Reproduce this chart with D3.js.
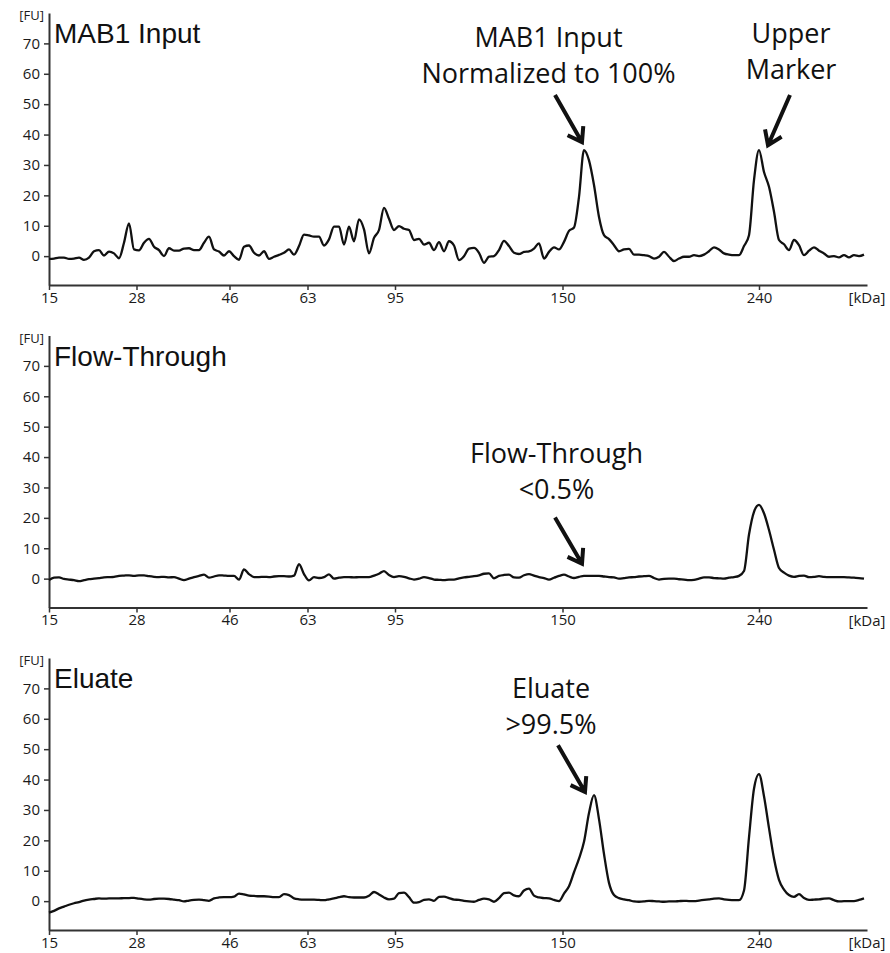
<!DOCTYPE html>
<html>

<head>
	<meta charset="utf-8">
	<title>Protein A purification - electropherograms</title>
	<style>
		html,
		body {
			margin: 0;
			background: #fff;
		}

		svg {
			display: block;
		}

		.axis .domain {
			stroke: #333;
			stroke-width: 2;
		}

		.axis .tick line {
			stroke: #333;
			stroke-width: 1.5;
		}

		.axis .tick text {
			font-family: 'Open Sans', sans-serif;
			fill: #1a1a1a;
		}

		.y-axis .tick text {
			font-size: 15px;
		}

		.x-axis .tick text {
			font-size: 15px;
		}

		.unit {
			font-family: 'Open Sans', sans-serif;
			fill: #1a1a1a;
		}

		.title {
			font-family: 'Liberation Sans', Arial, sans-serif;
			font-size: 28px;
			fill: #111;
		}

		.note {
			font-family: 'Open Sans', sans-serif;
			font-size: 27px;
			fill: #111;
			text-anchor: middle;
		}

		.trace {
			fill: none;
			stroke: #111;
			stroke-width: 2.3;
			stroke-linejoin: round;
		}

		.arrow {
			fill: none;
			stroke: #111;
			stroke-width: 4;
		}
	</style>
	<script src="https://cdn.jsdelivr.net/npm/d3@7/dist/d3.min.js"></script>
</head>

<body>
	<svg id="svg" width="890" height="953"></svg>

	<script>
		// size ladder: kDa label and the data point where each band sits
		const ladderKDa = [15, 28, 46, 63, 95, 150, 240];
		const ladderPoint = [0, 17.5, 36.1, 51.7, 69.2, 102.7, 142];
		const lastPoint = 163.6;

		const yTicks = [0, 10, 20, 30, 40, 50, 60, 70];
		const panelNames = ['MAB1 Input', 'Flow-Through', 'Eluate'];

		// fluorescence [FU], one value per data point
		const mab1Input = [
			-0.9, -0.8, -0.5, -0.5, -0.9, -0.8, -0.5, -1.2, -0.5, 1.6,
			2.0, 0.2, 1.5, 0.9, -0.7, 4.4, 10.8, 2.2, 1.9, 4.4,
			5.7, 3.1, 2.0, 0.0, 2.6, 1.8, 1.8, 2.5, 2.6, 2.0,
			2.0, 4.4, 6.4, 2.2, 1.5, 0.2, 1.6, 0.0, -1.2, 3.1,
			3.5, 1.1, 0.2, 1.6, -0.9, -0.2, 0.4, 1.1, 2.2, 0.5,
			3.3, 7.1, 6.8, 6.4, 6.4, 3.5, 5.5, 9.7, 9.7, 3.8,
			9.7, 4.9, 12.1, 8.8, 0.9, 6.0, 8.6, 15.9, 12.3, 8.6,
			9.9, 9.0, 8.6, 5.3, 5.7, 3.8, 4.4, 2.0, 4.6, 1.6,
			4.9, 3.5, -1.3, 0.0, 2.5, 2.7, 1.1, -2.2, -0.2, 0.0,
			2.0, 5.0, 3.3, 1.1, 0.7, 1.4, 1.6, 2.5, 4.2, -0.8,
			1.4, 2.9, 2.2, 4.7, 8.3, 9.4, 19.5, 34.9, 31.5, 23.4,
			12.9, 6.9, 5.6, 3.6, 1.6, 2.2, 2.4, 0.5, 0.5, 0.3,
			0.0, -0.8, -0.2, 1.4, -0.2, -1.6, -0.8, -0.2, -0.2, 0.3,
			0.0, 0.5, 1.6, 2.9, 2.2, 0.9, 0.5, 0.3, 0.3, 3.3,
			6.9, 25.0, 34.9, 27.7, 22.8, 14.6, 5.3, 3.9, 2.0, 5.3,
			3.6, 0.3, 1.8, 2.9, 1.8, 0.9, -0.2, 0.0, -0.4, 0.3,
			-0.4, 0.3, 0.0, 0.5
		];

		const flowThrough = [
			-0.5, 0.3, 0.4, -0.1, -0.3, -0.5, -0.8, -0.5, -0.2, 0.0,
			0.2, 0.4, 0.5, 0.6, 0.9, 1.0, 1.1, 0.9, 1.1, 1.1,
			0.8, 0.6, 0.5, 0.6, 0.4, 0.5, 0.0, -0.5, 0.0, 0.5,
			0.9, 1.3, 0.3, 0.7, 1.1, 1.0, 0.9, 0.9, -0.3, 3.0,
			1.5, 0.5, 0.5, 0.6, 0.5, 0.7, 0.8, 0.8, 0.7, 1.0,
			4.8, 1.5, -0.6, 0.5, 0.2, 0.5, 1.4, 0.0, 0.3, 0.5,
			0.5, 0.4, 0.5, 0.5, 0.5, 1.0, 1.6, 2.5, 1.2, 0.5,
			0.8, 0.6, 0.1, -0.3, 0.0, 0.5, 0.2, -0.3, -0.4, -0.5,
			-0.3, -0.3, 0.1, 0.4, 0.6, 0.8, 1.1, 1.6, 1.7, 0.1,
			0.9, 1.2, 1.3, 0.4, 0.3, 1.1, 1.5, 1.0, 0.5, 0.2,
			-0.3, 0.3, 0.9, 1.3, 0.7, 0.2, 0.6, 0.9, 0.9, 0.9,
			0.9, 0.7, 0.5, 0.4, 0.0, 0.2, 0.4, 0.5, 0.7, 0.8,
			0.9, 0.2, -0.3, -0.1, 0.0, 0.0, -0.2, -0.3, -0.5, -0.4,
			0.0, 0.4, 0.4, 0.2, 0.1, 0.0, 0.3, 0.5, 0.9, 2.5,
			14.5, 22.0, 24.3, 21.5, 16.0, 9.5, 3.5, 2.0, 1.0, 0.6,
			0.9, 1.0, 0.5, 0.6, 0.8, 0.6, 0.5, 0.5, 0.5, 0.5,
			0.4, 0.3, 0.2, 0.0
		];

		const eluate = [
			-3.8, -3.2, -2.4, -1.8, -1.2, -0.7, -0.3, 0.2, 0.5, 0.7,
			0.9, 0.8, 0.9, 0.9, 0.9, 1.0, 1.0, 1.1, 0.8, 0.6,
			0.5, 0.7, 0.8, 0.8, 0.7, 0.5, 0.3, -0.1, 0.2, 0.4,
			0.5, 0.3, 0.1, 0.9, 1.2, 1.3, 1.3, 1.5, 2.5, 2.2,
			1.8, 1.7, 1.6, 1.6, 1.5, 1.3, 1.3, 2.3, 2.0, 0.9,
			0.6, 0.5, 0.5, 0.5, 0.4, 0.3, 0.6, 0.9, 1.3, 1.6,
			1.3, 1.2, 1.2, 1.2, 1.8, 3.0, 2.2, 1.2, 0.6, 0.8,
			2.6, 2.8, 1.3, -0.5, -0.3, 0.4, 0.6, 0.1, 1.4, 1.5,
			1.0, 0.5, 0.4, 0.1, -0.1, -0.2, 0.4, 0.8, 0.6, -0.2,
			1.0, 2.6, 2.8, 1.9, 1.6, 3.5, 4.1, 1.8, 1.2, 1.0,
			0.9, 0.4, 0.0, 2.5, 4.9, 9.5, 14.0, 19.5, 29.0, 34.9,
			27.0, 15.5, 6.0, 2.0, 1.0, 0.6, 0.3, -0.1, -0.2, -0.1,
			0.1, 0.0, -0.1, -0.2, -0.1, -0.1, 0.0, 0.1, 0.0, 0.0,
			0.2, 0.4, 0.6, 0.8, 0.9, 0.6, 0.4, 0.3, 0.3, 3.5,
			21.0, 37.0, 41.8, 34.5, 24.0, 14.0, 7.0, 3.8, 2.0, 1.4,
			2.3, 1.0, 0.4, 0.5, 0.6, 0.8, 0.9, 0.3, -0.1, 0.0,
			0.0, 0.0, 0.4, 0.9
		];

		const traces = [mab1Input, flowThrough, eluate];

		// callouts: panel, text lines, text centre (data point, FU), arrow from / to
		const notes = [
			{ panel: 0, lines: ['MAB1 Input', 'Normalized to 100%'], at: [99.9, 68.7], from: [101.2, 53.0], to: [106.6, 37.5] },
			{ panel: 0, lines: ['Upper', 'Marker'], at: [148.4, 70.1], from: [148.2, 53.0], to: [143.8, 36.5] },
			{ panel: 1, lines: ['Flow-Through', '<0.5%'], at: [101.5, 38.2], from: [101.2, 20.1], to: [106.6, 4.9] },
			{ panel: 2, lines: ['Eluate', '>99.5%'], at: [100.4, 66.8], from: [101.8, 51.3], to: [107.2, 35.9] }
		];

		const svg = d3.select('#svg'),
			left = 49,
			right = 867,
			firstTop = 13,
			panelH = 272,
			panelStep = 322.5;

		const x = d3.scaleLinear().domain([0, lastPoint]).range([left, right]);
		const y = d3.scaleLinear().domain([-9.5, 80]).range([panelH, 0]);

		const line = d3.line()
			.x((d, i) => x(i))
			.y(d => y(d))
			.curve(d3.curveMonotoneX);

		function arrowPath(x1, y1, x2, y2) {
			const a = Math.atan2(y2 - y1, x2 - x1),
				len = 16,
				spread = 0.6;
			return `M${x1},${y1}L${x2},${y2}` +
				`M${x2 - len * Math.cos(a - spread)},${y2 - len * Math.sin(a - spread)}` +
				`L${x2},${y2}` +
				`L${x2 - len * Math.cos(a + spread)},${y2 - len * Math.sin(a + spread)}`;
		}

		const panels = svg.selectAll('g.panel')
			.data(panelNames)
			.join('g')
			.attr('class', 'panel')
			.attr('transform', (d, i) => `translate(0,${firstTop + i * panelStep})`);

		panels.each(function (name, p) {
			const g = d3.select(this);

			//axes
			g.append('g')
				.attr('class', 'axis y-axis')
				.attr('transform', `translate(${left},0)`)
				.call(d3.axisLeft(y).tickValues(yTicks).tickSize(5).tickPadding(4).tickSizeOuter(0));

			g.append('g')
				.attr('class', 'axis x-axis')
				.attr('transform', `translate(0,${panelH})`)
				.call(d3.axisBottom(x)
					.tickValues(ladderPoint)
					.tickFormat((d, i) => ladderKDa[i])
					.tickSize(5).tickPadding(2).tickSizeOuter(0));

			g.append('text')
				.attr('class', 'unit')
				.attr('x', left - 5)
				.attr('y', 7)
				.attr('text-anchor', 'end')
				.style('font-size', '13px')
				.text('[FU]');

			g.append('text')
				.attr('class', 'unit')
				.attr('x', right)
				.attr('y', panelH + 18)
				.attr('text-anchor', 'middle')
				.style('font-size', '15px')
				.text('[kDa]');

			g.append('text')
				.attr('class', 'title')
				.attr('x', left + 5)
				.attr('y', 30)
				.text(name);

			//trace
			g.append('path')
				.datum(traces[p])
				.attr('class', 'trace')
				.attr('d', line);

			//callouts
			notes.filter(n => n.panel === p).forEach(n => {
				const t = g.append('text')
					.attr('class', 'note')
					.attr('x', x(n.at[0]))
					.attr('y', y(n.at[1]));
				t.selectAll('tspan')
					.data(n.lines)
					.join('tspan')
					.attr('x', x(n.at[0]))
					.attr('dy', (d, i) => i ? 36 : 0)
					.text(d => d);

				g.append('path')
					.attr('class', 'arrow')
					.attr('d', arrowPath(x(n.from[0]), y(n.from[1]), x(n.to[0]), y(n.to[1])));
			});
		});
	</script>
</body>

</html>
